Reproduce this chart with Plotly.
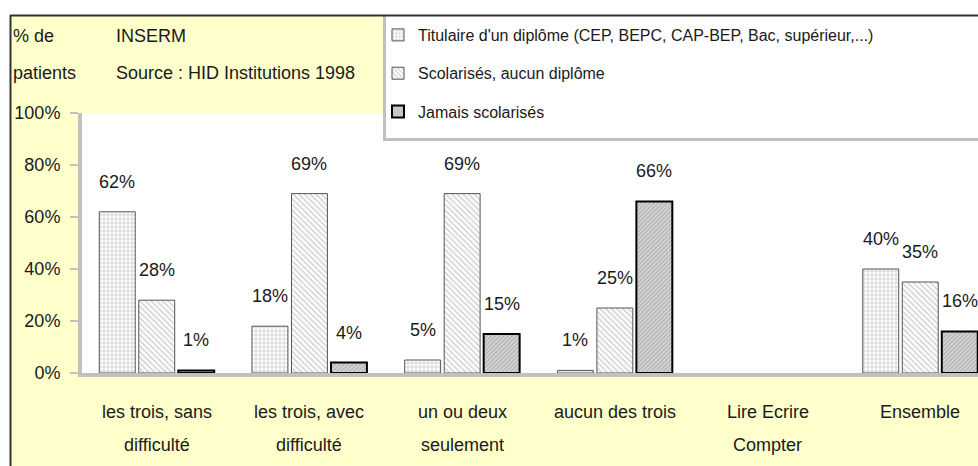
import plotly.graph_objects as go

# ---- data -------------------------------------------------------------
categories = [
    "les trois, sans difficulté",
    "les trois, avec difficulté",
    "un ou deux seulement",
    "aucun des trois",
    "Lire Ecrire Compter",
    "Ensemble",
]
category_lines = [
    ["les trois, sans", "difficulté"],
    ["les trois, avec", "difficulté"],
    ["un ou deux", "seulement"],
    ["aucun des trois", ""],
    ["Lire Ecrire", "Compter"],
    ["Ensemble", ""],
]
series_names = [
    "Titulaire d'un diplôme (CEP, BEPC, CAP-BEP, Bac, supérieur,...)",
    "Scolarisés, aucun diplôme",
    "Jamais scolarisés",
]
diplome = [62, 18, 5, 1, None, 40]
scolarises = [28, 69, 69, 25, None, 35]
jamais = [1, 4, 15, 66, None, 16]
y_ticks = [0, 20, 40, 60, 80, 100]
y_tick_labels = ["0%", "20%", "40%", "60%", "80%", "100%"]

# ---- geometry helpers (pixels -> paper) --------------------------------
W, H = 978, 466
ML, MR, MT, MB = 82, 0, 113, 93
PW, PH = W - ML - MR, H - MT - MB


def px(x):
    return (x - ML) / PW


def py(y):
    return (H - MB - y) / PH


FONT = "Liberation Sans, Arial, sans-serif"
TXT = "#1a1a1a"
YELLOW = "#FFFFCC"
GREY = "#c0c0c0"

BARGAP = 0.224
styles = [
    dict(color="white", line=dict(color="#555555", width=1),
         pattern=dict(shape="+", fgcolor="#a8a8a8", bgcolor="white", size=4, solidity=0.45)),
    dict(color="white", line=dict(color="#555555", width=1),
         pattern=dict(shape="\\", fgcolor="#a8a8a8", bgcolor="white", size=4, solidity=0.4)),
    dict(color="#d4d4d4", line=dict(color="#000000", width=2),
         pattern=dict(shape="/", fgcolor="#8a8a8a", bgcolor="#d8d8d8", size=3, solidity=0.45)),
]

fig = go.Figure()
all_series = [diplome, scolarises, jamais]
for k, (name, vals, st) in enumerate(zip(series_names, all_series, styles)):
    fig.add_trace(go.Bar(
        x=categories, y=vals, name=name, marker=st,
        legendgroup=f"g{k}", hoverinfo="skip",
    ))

annotations = []
# value labels above each bar
slot = (1 - BARGAP) / len(all_series)
for k, vals in enumerate(all_series):
    for i, v in enumerate(vals):
        if v is None:
            continue
        annotations.append(dict(
            x=i + (k - 1) * slot, y=v, xref="x", yref="y",
            text=f"{v}%", showarrow=False, yanchor="middle", yshift=30,
            font=dict(family=FONT, size=18, color=TXT),
        ))

# two-line category labels under the floor
for i, lines in enumerate(category_lines):
    for j, line in enumerate(lines):
        if not line:
            continue
        annotations.append(dict(
            x=i, y=py(412 + 33 * j), xref="x", yref="paper",
            text=line, showarrow=False, yanchor="middle",
            font=dict(family=FONT, size=18, color=TXT),
        ))

# header texts
for text, x, y in [("% de", 11, 36), ("patients", 11, 73),
                   ("INSERM", 114, 36), ("Source : HID Institutions 1998", 114, 73)]:
    annotations.append(dict(
        x=px(x), y=py(y), xref="paper", yref="paper", text=text,
        showarrow=False, xanchor="left", yanchor="middle",
        font=dict(family=FONT, size=18, color=TXT),
    ))

shapes = [
    # white margin outside the framed chart
    dict(type="rect", xref="paper", yref="paper", x0=px(0), x1=px(W), y0=py(0), y1=py(15),
         fillcolor="white", line=dict(width=0), layer="below"),
    dict(type="rect", xref="paper", yref="paper", x0=px(0), x1=px(10), y0=py(0), y1=py(H),
         fillcolor="white", line=dict(width=0), layer="below"),
    # legend box
    dict(type="rect", xref="paper", yref="paper", x0=px(383), x1=px(W), y0=py(15), y1=py(140),
         fillcolor="white", line=dict(width=0), layer="above"),
    dict(type="line", xref="paper", yref="paper", x0=px(384.5), x1=px(384.5), y0=py(16), y1=py(141),
         line=dict(color=GREY, width=3), layer="above"),
    dict(type="line", xref="paper", yref="paper", x0=px(383), x1=px(W), y0=py(139.5), y1=py(139.5),
         line=dict(color=GREY, width=3), layer="above"),
    # outer frame
    dict(type="line", xref="paper", yref="paper", x0=px(10), x1=px(W), y0=py(15.5), y1=py(15.5),
         line=dict(color="#333333", width=2), layer="above"),
    dict(type="line", xref="paper", yref="paper", x0=px(10.5), x1=px(10.5), y0=py(15), y1=py(H),
         line=dict(color="#333333", width=2), layer="above"),
]

band = 152.7
x0 = -0.5 - (ML - 79.6) / band + 4 / band
fig.update_layout(
    width=W, height=H,
    margin=dict(l=ML, r=MR, t=MT, b=MB, pad=0, autoexpand=False),
    paper_bgcolor=YELLOW, plot_bgcolor="white",
    barmode="group", bargap=BARGAP, bargroupgap=0.09,
    showlegend=True,
    legend=dict(
        x=px(378), y=py(18), xanchor="left", yanchor="top",
        bgcolor="rgba(0,0,0,0)", borderwidth=0,
        traceorder="grouped", tracegroupgap=14.5,
        font=dict(family=FONT, size=16, color=TXT),
    ),
    xaxis=dict(
        range=[x0, x0 + PW / band], showticklabels=False, ticks="",
        showline=True, linecolor=GREY, linewidth=4, showgrid=False, zeroline=False,
        fixedrange=True,
    ),
    yaxis=dict(
        range=[0, 100], tickvals=y_ticks, ticktext=y_tick_labels,
        ticks="outside", ticklen=8, tickwidth=2, tickcolor=GREY,
        ticklabelstandoff=6,
        showline=True, linecolor=GREY, linewidth=4, showgrid=False, zeroline=False,
        tickfont=dict(family=FONT, size=18, color=TXT),
        fixedrange=True,
    ),
    annotations=annotations,
    shapes=shapes,
)

fig.write_html("out.html", config={"displayModeBar": False})
